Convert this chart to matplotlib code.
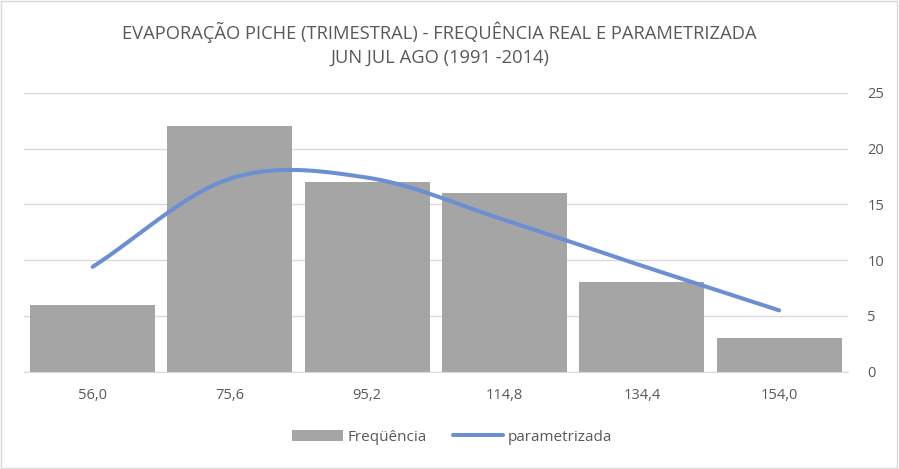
import numpy as np
import matplotlib.pyplot as plt

categorias = ["56,0", "75,6", "95,2", "114,8", "134,4", "154,0"]
frequencia = [6, 22, 17, 16, 8, 3]
parametrizada = [9.4, 17.3, 17.4, 13.6, 9.5, 5.5]

cinza = "#595959"


def suaviza(y, n=40):
    # curva suave estilo Excel (Catmull-Rom em Bezier)
    p = np.array(y, dtype=float)
    xs, ys = [], []
    for i in range(len(p) - 1):
        p0 = p[i - 1] if i > 0 else 2 * p[i] - p[i + 1]
        p3 = p[i + 2] if i + 2 < len(p) else 2 * p[i + 1] - p[i]
        c1 = p[i] + (p[i + 1] - p0) / 6
        c2 = p[i + 1] - (p3 - p[i]) / 6
        t = np.linspace(0, 1, n)
        b = (1 - t) ** 3 * p[i] + 3 * (1 - t) ** 2 * t * c1 + 3 * (1 - t) * t ** 2 * c2 + t ** 3 * p[i + 1]
        xs.append(i + t)
        ys.append(b)
    return np.concatenate(xs), np.concatenate(ys)


plt.rcParams['font.family'] = ['Open Sans', 'DejaVu Sans']

fig = plt.figure(figsize=(8.99, 4.69), dpi=100)
ax = fig.add_axes([0.0267, 0.2075, 0.9163, 0.5945])

x = np.arange(len(categorias))
barras = ax.bar(x, frequencia, width=0.91, color="#a5a5a5", label="Freqüência", zorder=2)
xs, ys = suaviza(parametrizada)
linha, = ax.plot(xs, ys, color="#6a8fd2", lw=2.9, solid_capstyle="round", label="parametrizada", zorder=3)

ax.set_xlim(-0.5, len(categorias) - 0.5)
ax.set_ylim(0, 25)
ax.set_yticks([0, 5, 10, 15, 20, 25])
ax.yaxis.tick_right()
ax.grid(axis="y", color="#d9d9d9", lw=1, zorder=0)
ax.set_xticks(x)
ax.set_xticklabels(categorias)
ax.tick_params(axis="both", length=0, colors=cinza, labelsize=10.5)
ax.tick_params(axis="x", pad=12)
ax.tick_params(axis="y", pad=14)
for s in ["top", "left", "right"]:
    ax.spines[s].set_visible(False)
ax.spines["bottom"].set_color("#d9d9d9")

fig.text(0.489, 0.906, "EVAPORAÇÃO PICHE (TRIMESTRAL) - FREQUÊNCIA REAL E PARAMETRIZADA\nJUN JUL AGO (1991 -2014)",
         ha="center", va="center", color=cinza, fontsize=13.2, linespacing=1.45)

fig.legend([barras, linha], ["Freqüência", "parametrizada"], loc="center", bbox_to_anchor=(0.503, 0.068),
           ncol=2, frameon=False, fontsize=11, labelcolor=cinza, handlelength=3.3,
           columnspacing=1.7, handletextpad=0.3)

fig.patches.append(plt.Rectangle((0.001, 0.002), 0.997, 0.996, transform=fig.transFigure,
                                 fill=False, edgecolor="#d9d9d9", lw=1))

fig.savefig("out.png", dpi=100)
